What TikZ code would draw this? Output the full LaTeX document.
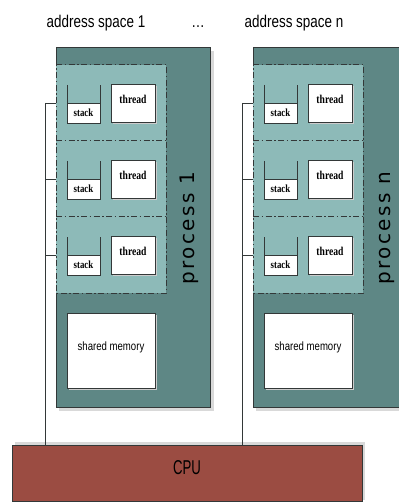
\documentclass[tikz,border=0pt]{standalone}
\usepackage{fontspec}
\setmainfont{Liberation Sans}
\newfontfamily\serifbold{Liberation Serif Bold}
\newfontfamily\procfont{DejaVu Sans}[LetterSpace=12]
\definecolor{procteal}{HTML}{5E8785}
\definecolor{groupteal}{HTML}{8DBAB8}
\definecolor{cpured}{HTML}{9B4C42}
\definecolor{edge}{HTML}{333838}
\begin{document}
\begin{tikzpicture}[x=1pt,y=-1pt,
  procbox/.style={fill=procteal,draw=edge,line width=0.8pt},
  shadowbox/.style={fill=black!15},
  groupbox/.style={fill=groupteal},
  dashdot/.style={draw=edge,line width=1pt,dash pattern=on 6pt off 2.5pt on 1.5pt off 2.5pt},
  whitebox/.style={fill=white,draw=edge,line width=0.7pt},
  wire/.style={draw=edge,line width=0.6pt},
  headtxt/.style={font=\fontsize{17}{20}\selectfont,xscale=0.79,anchor=base},
  smalltxt/.style={font=\serifbold\fontsize{12}{13}\selectfont,xscale=0.8,inner sep=0pt},
  memtxt/.style={font=\fontsize{12}{14}\selectfont,xscale=0.8,inner sep=0pt},
  proctxt/.style={font=\procfont\fontsize{20}{22}\selectfont,rotate=90,inner sep=0pt}
]
\useasboundingbox (0,0) rectangle (398,502);

% CPU
\fill[black!15] (15,442) rectangle (365,500);
\path[fill=cpured,draw=edge,line width=0.8pt] (12,445) rectangle (362,501);
\node[font=\fontsize{20}{22}\selectfont,xscale=0.66,inner sep=0pt] (cpu) at (187,468) {CPU};
\coordinate (cpuL1) at (45,445);
\coordinate (cpuLn) at (242,445);

% headings
\node[headtxt] (as1) at (96,28) {address space 1};
\node[headtxt] (dots) at (198,28) {\dots};
\node[headtxt] (asn) at (294,28) {address space n};

\foreach \o/\r/\lab/\lx in {0/210/1/189, 197/412/n/387} {
  % process box with shadow
  \fill[shadowbox] ({\o+59},51) rectangle ({\r+4},411);
  \path[procbox] ({\o+56},47) rectangle (\r,407);
  % thread groups
  \foreach \g/\t in {0/65,1/141,2/217} {
    \fill[groupbox] ({\o+56},\t) rectangle ({\o+166},{\t+76});
    % stack
    \fill[white] ({\o+67},{\t+38}) rectangle ({\o+100},{\t+58});
    \draw[edge,line width=0.7pt] ({\o+67},{\t+20}) -- ({\o+67},{\t+58}) -- ({\o+100},{\t+58}) -- ({\o+100},{\t+20});
    \draw[edge,line width=0.7pt] ({\o+67},{\t+38}) -- ({\o+100},{\t+38});
    \node[smalltxt,font=\serifbold\fontsize{11}{12}\selectfont] (stack-\lab-\g) at ({\o+83.5},{\t+48}) {stack};
    % thread
    \fill[black!20] ({\o+113},{\t+21}) rectangle ({\o+157},{\t+59});
    \path[whitebox] ({\o+111},{\t+19}) rectangle ({\o+155},{\t+57});
    \node[smalltxt] (thread-\lab-\g) at ({\o+133},{\t+34}) {thread};
    % tick
    \coordinate (tick-\lab-\g) at ({\o+45},{\t+38});
    \coordinate (tickend-\lab-\g) at ({\o+56},{\t+38});
    \draw[wire] (tick-\lab-\g) -- (tickend-\lab-\g);
  }
  % dash-dot outlines
  \draw[dashdot] ({\o+56},65) -- ({\o+166},65) -- ({\o+166},293) -- ({\o+56},293) -- cycle;
  \draw[dashdot] ({\o+56},141) -- ({\o+166},141);
  \draw[dashdot] ({\o+56},217) -- ({\o+166},217);
  % shared memory
  \fill[black!20] ({\o+69},315) rectangle ({\o+157},390);
  \path[whitebox] ({\o+67},313) rectangle ({\o+155},388);
  \node[memtxt] (mem-\lab) at ({\o+111},347) {shared memory};
  % process label
  \node[proctxt] (proc-\lab) at (\lx,228) {process \lab};
}
% wires to CPU
\draw[wire] (tick-1-0) -- (cpuL1);
\draw[wire] (tick-n-0) -- (cpuLn);
\end{tikzpicture}
\end{document}
